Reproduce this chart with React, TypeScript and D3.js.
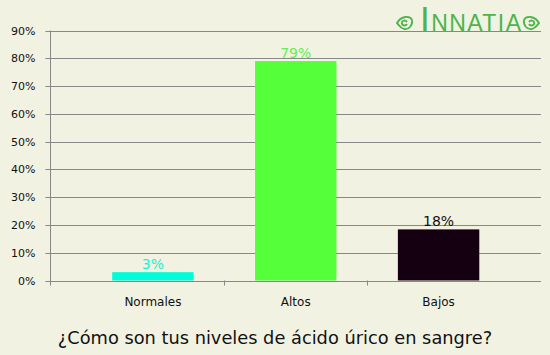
import React from "react";
import * as d3 from "d3";

const categories = ["Normales", "Altos", "Bajos"];
const values = [3, 79, 18.4];
const valueLabels = ["3%", "79%", "18%"];
const barColors = ["#03fcd8", "#55ff3a", "#140010"];
const labelColors = ["#20f0d0", "#66ee55", "#111111"];
const yTicks = [0, 10, 20, 30, 40, 50, 60, 70, 80, 90];
const title = "¿Cómo son tus niveles de ácido úrico en sangre?";

const W = 550, H = 355;
const left = 50.5, right = 541, top = 30.5, bottom = 280.5;

function Ornament({ cx, cy, flip }: { cx: number; cy: number; flip: boolean }) {
  const s = flip ? -1 : 1;
  return (
    <g transform={`translate(${cx},${cy}) scale(${s},1)`} fill="none" stroke="#4cb54c" strokeWidth={1.8}>
      <path d="M-8,0 C-4,-7 5,-8 7,-3 C8,2 4,7 -1,6 C-5,5 -6,2 -8,0 Z" />
      <path d="M2,-1 C0,-4 -4,-2 -3,1 C-2,3 1,3 2,1" />
    </g>
  );
}

export default function App() {
  const y = d3.scaleLinear().domain([0, 90]).range([bottom, top]);
  const x = d3.scaleBand<string>().domain(categories).range([81.5, 510]).paddingInner(0.43).paddingOuter(0.215);
  const font = "DejaVu Sans, Verdana, sans-serif";
  const bounds = [left, ...categories.slice(1).map((c) => (x(c)! - x.step() * x.paddingInner() / 2))];
  return (
    <svg width={W} height={H} style={{ position: "absolute", left: 0, top: 0, background: "#f2f2e2" }} fontFamily={font}>
      <rect x={0} y={0} width={W} height={H} fill="#f2f2e2" />
      {yTicks.map((t) => (
        <g key={t}>
          <line x1={left - 5} x2={right} y1={Math.round(y(t)) + 0.5} y2={Math.round(y(t)) + 0.5} stroke="#888" strokeWidth={1} />
          <text x={35.5} y={y(t) + 4} textAnchor="end" fontSize={11} fill="#111">{t}%</text>
        </g>
      ))}
      {/* logo */}
      <g>
        <text x={420} y={31} fill="#4cb54c" fontFamily="Liberation Sans, Arial, sans-serif" fontSize={23} textLength={101} lengthAdjust="spacing">
          <tspan fontSize={35}>I</tspan>NNATIA
        </text>
        <Ornament cx={405} cy={23} flip={false} />
        <Ornament cx={531} cy={23} flip={true} />
      </g>
      <line x1={left} x2={left} y1={top} y2={bottom + 5} stroke="#888" strokeWidth={1} />
      {bounds.slice(1).map((b, i) => (
        <line key={i} x1={Math.round(b) + 0.5} x2={Math.round(b) + 0.5} y1={bottom} y2={bottom + 5} stroke="#888" strokeWidth={1} />
      ))}
      {categories.map((c, i) => (
        <g key={c}>
          <rect x={x(c)} y={y(values[i])} width={x.bandwidth()} height={bottom - y(values[i])} fill={barColors[i]} />
          <text x={x(c)! + x.bandwidth() / 2} y={y(values[i]) - 3} textAnchor="middle" fontSize={14} fill={labelColors[i]}>{valueLabels[i]}</text>
          <text x={x(c)! + x.bandwidth() / 2} y={306} textAnchor="middle" fontSize={12} fill="#111">{c}</text>
        </g>
      ))}
      <text x={(58 + 492) / 2} y={344} textAnchor="middle" fontSize={17.8} fill="#111">{title}</text>
    </svg>
  );
}
